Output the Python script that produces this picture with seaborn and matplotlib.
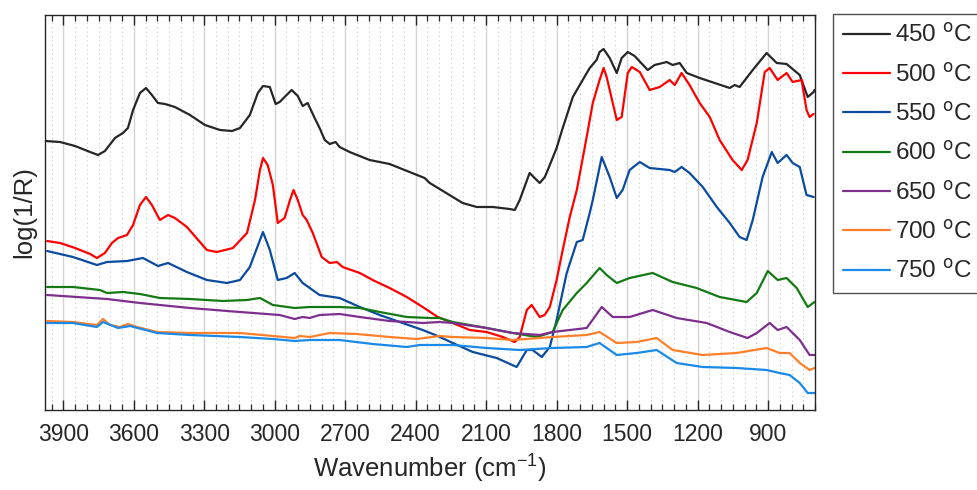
import numpy as np
import pandas as pd
import matplotlib
matplotlib.use("Agg")
import matplotlib.pyplot as plt
from matplotlib.ticker import MultipleLocator
import seaborn as sns

# ---- data (wavenumber in cm-1, log(1/R) in arbitrary units) ----
wn_450 = [3978, 3914, 3850, 3786, 3752, 3723, 3680, 3667, 3646, 3625, 3603, 3574, 3548, 3523, 3497,
          3467, 3425, 3361, 3297, 3233, 3182, 3148, 3106, 3072, 3050, 3021, 2996, 2979, 2958, 2928,
          2902, 2881, 2860, 2830, 2809, 2787, 2766, 2741, 2724, 2681, 2596, 2511, 2426, 2362, 2340,
          2270, 2200, 2140, 2072, 2000, 1978, 1957, 1915, 1872, 1850, 1829, 1800, 1774, 1731, 1689,
          1659, 1630, 1617, 1600, 1574, 1544, 1523, 1497, 1468, 1412, 1383, 1331, 1306, 1276, 1246,
          1191, 1063, 1042, 1021, 965, 906, 863, 821, 765, 731, 706, 702]
y_450 = [141, 142, 146, 152, 155, 151, 138, 136, 133, 128, 110, 93, 88, 95, 103,
         104, 107, 115, 125, 130, 131, 128, 115, 93, 86, 87, 104, 102, 97, 90,
         96, 106, 103, 118, 128, 140, 144, 142, 147, 152, 160, 164, 172, 178, 183,
         193, 203, 207, 207, 209, 210, 200, 173, 183, 177, 165, 148, 128, 97, 80,
         68, 60, 52, 49, 58, 73, 58, 52, 56, 70, 65, 62, 65, 63, 73,
         78, 88, 85, 87, 70, 53, 63, 64, 75, 97, 92, 90]

wn_500 = [3969, 3914, 3850, 3786, 3757, 3723, 3693, 3667, 3629, 3603, 3574, 3548, 3523, 3489, 3454,
          3425, 3374, 3289, 3246, 3178, 3118, 3084, 3063, 3050, 3030, 3008, 2987, 2958, 2935, 2920,
          2902, 2881, 2864, 2838, 2800, 2766, 2735, 2711, 2638, 2583, 2511, 2438, 2370, 2306, 2242,
          2170, 2098, 2029, 1978, 1957, 1927, 1906, 1872, 1851, 1829, 1800, 1774, 1744, 1714, 1672,
          1646, 1617, 1600, 1587, 1544, 1523, 1497, 1480, 1446, 1404, 1361, 1319, 1297, 1268, 1234,
          1191, 1148, 1106, 1051, 1012, 987, 948, 914, 893, 859, 821, 795, 757, 736, 723, 706]
y_500 = [241, 243, 248, 254, 258, 253, 243, 238, 235, 225, 205, 197, 205, 220, 215,
         218, 227, 250, 252, 248, 233, 200, 170, 158, 165, 185, 223, 218, 200, 190,
         200, 215, 220, 233, 257, 263, 262, 267, 273, 280, 288, 297, 307, 317, 323,
         330, 332, 337, 342, 337, 310, 305, 317, 315, 307, 280, 250, 217, 190, 137,
         103, 80, 68, 77, 120, 117, 73, 67, 72, 90, 87, 80, 85, 73, 85,
         103, 117, 140, 160, 170, 160, 123, 72, 68, 80, 73, 82, 80, 110, 117, 114]

wn_550 = [3969, 3859, 3757, 3714, 3629, 3561, 3497, 3454, 3374, 3289, 3203, 3148, 3106, 3050, 3021,
          2987, 2949, 2915, 2881, 2809, 2724, 2638, 2553, 2468, 2370, 2306, 2242, 2157, 2055, 1970,
          1927, 1902, 1863, 1829, 1800, 1757, 1714, 1689, 1659, 1646, 1608, 1574, 1544, 1519, 1489,
          1446, 1404, 1319, 1297, 1268, 1234, 1178, 1118, 1063, 1021, 991, 965, 923, 884, 859,
          821, 795, 765, 736, 706]
y_550 = [251, 257, 265, 262, 261, 258, 266, 263, 272, 280, 283, 280, 267, 232, 250,
         280, 278, 273, 283, 295, 298, 307, 315, 322, 330, 336, 343, 352, 358, 367,
         350, 350, 357, 347, 320, 273, 242, 240, 213, 200, 157, 177, 198, 190, 170,
         162, 168, 170, 172, 167, 173, 187, 207, 223, 237, 240, 220, 177, 152, 163,
         155, 163, 167, 195, 197]

wn_600 = [3969, 3859, 3744, 3714, 3646, 3574, 3489, 3361, 3220, 3118, 3063, 3008, 2915, 2851, 2724,
          2638, 2553, 2438, 2340, 2298, 2242, 2098, 1987, 1884, 1817, 1774, 1714, 1672, 1617, 1587,
          1544, 1489, 1391, 1306, 1204, 1106, 991, 948, 901, 859, 821, 778, 731, 702]
y_600 = [287, 287, 290, 293, 292, 294, 298, 299, 301, 300, 298, 305, 308, 307, 307,
         308, 312, 317, 318, 318, 322, 328, 333, 337, 332, 310, 293, 283, 268, 275,
         283, 278, 273, 282, 288, 297, 302, 293, 271, 280, 278, 288, 307, 302]

wn_650 = [3969, 3714, 3574, 3361, 3148, 2979, 2915, 2881, 2851, 2809, 2724, 2638, 2511, 2370, 2298,
          2242, 2098, 1987, 1872, 1817, 1744, 1672, 1638, 1608, 1561, 1489, 1391, 1289, 1161, 1063,
          987, 948, 893, 859, 821, 765, 723, 702]
y_650 = [295, 299, 303, 308, 312, 315, 319, 317, 318, 315, 314, 317, 321, 323, 322,
         323, 328, 333, 335, 332, 330, 328, 317, 307, 317, 317, 310, 318, 323, 332,
         338, 333, 323, 330, 327, 340, 355, 355]

wn_700 = [3969, 3859, 3757, 3731, 3701, 3659, 3625, 3586, 3501, 3361, 3148, 3008, 2915, 2893, 2851,
          2766, 2651, 2511, 2396, 2298, 2242, 2098, 1987, 1817, 1672, 1617, 1544, 1459, 1374, 1306,
          1178, 1034, 906, 851, 808, 765, 723, 702]
y_700 = [321, 322, 325, 319, 325, 327, 324, 327, 332, 333, 333, 336, 338, 336, 337,
         333, 334, 337, 339, 336, 337, 338, 340, 337, 335, 332, 343, 342, 338, 350,
         355, 353, 348, 353, 353, 363, 370, 368]

wn_750 = [3969, 3859, 3757, 3731, 3667, 3616, 3501, 3361, 3148, 3008, 2915, 2851, 2724, 2583, 2438,
          2383, 2242, 2098, 1957, 1817, 1672, 1617, 1544, 1459, 1374, 1289, 1178, 1034, 906, 851,
          808, 765, 731, 702]
y_750 = [323, 323, 327, 322, 328, 326, 333, 335, 337, 339, 341, 340, 340, 344, 347,
         345, 345, 348, 350, 348, 347, 343, 355, 353, 350, 363, 367, 368, 370, 373,
         375, 383, 393, 393]

temps = ["450", "500", "550", "600", "650", "700", "750"]
labels = [t + r" $^\mathrm{o}$C" for t in temps]
colors = ["#262626", "#FF0000", "#0A4BA0", "#137A13", "#7E2F8E", "#FF7F2A", "#1A8AE8"]

series = [(wn_450, y_450), (wn_500, y_500), (wn_550, y_550), (wn_600, y_600),
          (wn_650, y_650), (wn_700, y_700), (wn_750, y_750)]

frames = []
for lab, (wn, yy) in zip(labels, series):
    frames.append(pd.DataFrame({"wn": wn, "val": (410 - np.array(yy)) / 100.0, "T": lab}))
df = pd.concat(frames, ignore_index=True)

# ---- figure ----
sns.set_theme(style="white")
plt.rcParams["font.family"] = ["Liberation Sans", "DejaVu Sans"]
plt.rcParams["mathtext.default"] = "regular"

fig = plt.figure(figsize=(9.77, 4.90), dpi=100)
ax = fig.add_axes([45 / 977, 1 - 410 / 490, (815 - 45) / 977, (410 - 15) / 490])

sns.lineplot(data=df, x="wn", y="val", hue="T", palette=colors, hue_order=labels,
             estimator=None, sort=True, linewidth=1.6, ax=ax, legend=False)

ax.set_xlim(3978, 700)
ax.set_ylim(0, 3.95)
ax.xaxis.set_major_locator(MultipleLocator(300))
ax.xaxis.set_minor_locator(MultipleLocator(50))
ax.set_xticks(np.arange(900, 3901, 300))
ax.set_yticks([])
ax.grid(True, which="major", axis="x", color="#d4d4d4", linestyle="-", linewidth=1.0)
ax.grid(True, which="minor", axis="x", color="#c8c8c8", linestyle=(0, (1, 3)), linewidth=0.8)
ax.grid(False, axis="y")
ax.set_axisbelow(True)
ax.tick_params(axis="x", which="major", direction="in", length=7, width=1.0, top=True,
               bottom=True, labelsize=16.5, colors="#262626", pad=9)
ax.tick_params(axis="x", which="minor", direction="in", length=4, width=0.9, top=True,
               bottom=True, colors="#262626")
for s in ax.spines.values():
    s.set_color("#262626")
    s.set_linewidth(1.0)
    s.set_visible(True)

ax.set_xlabel("Wavenumber (cm$^{-1}$)", fontsize=18.5, color="#262626", labelpad=5)
ax.set_ylabel("log(1/R)", fontsize=18.5, color="#262626", labelpad=6)

handles = [plt.Line2D([], [], color=c, linewidth=1.6) for c in colors]
leg = fig.legend(handles, labels, loc="upper left", bbox_to_anchor=(833 / 977, 1 - 14 / 490),
                 fontsize=17.5, frameon=True, fancybox=False, edgecolor="#262626",
                 handlelength=1.95, handletextpad=0.2, labelspacing=0.66,
                 borderaxespad=0.0, borderpad=0.4)
leg.get_frame().set_linewidth(1.0)

fig.savefig("out.png", dpi=100)
